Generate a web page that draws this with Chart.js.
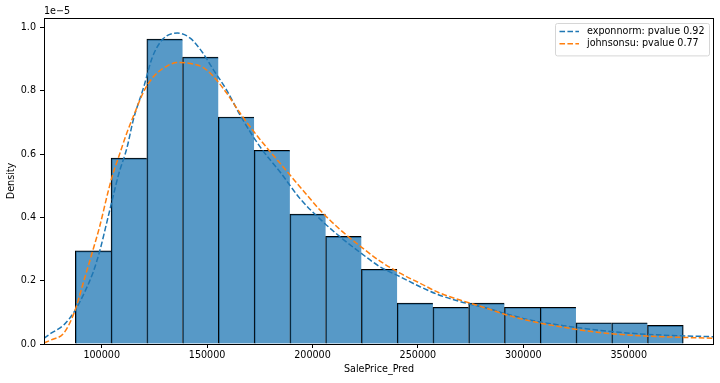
<!DOCTYPE html>
<html><head><meta charset="utf-8">
<script src="https://cdn.jsdelivr.net/npm/chart.js@4/dist/chart.umd.min.js"></script>
<style>html,body{margin:0;padding:0;background:#fff;}#wrap{width:720px;height:383px;}</style>
</head><body><div id="wrap"><canvas id="c" width="720" height="383"></canvas></div>
<script>
// ---- data (density values in units of 1e-5) ----
const binEdges = [87480, 104445, 121410, 138375, 155340, 172305, 189270, 206235, 223200, 240165, 257130, 274095, 291060, 308025, 324990, 341955, 358920, 375885];
const binDensity = [0.294, 0.587, 0.963, 0.906, 0.717, 0.612, 0.410, 0.340, 0.236, 0.129, 0.116, 0.129, 0.116, 0.116, 0.067, 0.067, 0.059];
const curveX = [72600, 76000, 82000, 87000, 92000, 96000, 99000, 103000, 105000, 108000, 112000, 115000, 120000, 124000, 129000, 136000, 142000, 148000, 153000, 159000, 166000, 175000, 185000, 194000, 204000, 213000, 223000, 232000, 242000, 251000, 260000, 270000, 283000, 291000, 303000, 319000, 335000, 351000, 366000, 390500];
const exponnormY = [0.018, 0.034, 0.060, 0.102, 0.165, 0.228, 0.292, 0.400, 0.455, 0.535, 0.620, 0.708, 0.813, 0.905, 0.963, 0.982, 0.966, 0.919, 0.866, 0.805, 0.719, 0.624, 0.540, 0.460, 0.392, 0.339, 0.287, 0.244, 0.211, 0.181, 0.155, 0.134, 0.113, 0.097, 0.076, 0.058, 0.044, 0.034, 0.028, 0.023];
const johnsonsuY = [0.003, 0.013, 0.034, 0.100, 0.210, 0.300, 0.370, 0.480, 0.530, 0.590, 0.668, 0.719, 0.798, 0.840, 0.870, 0.889, 0.886, 0.874, 0.845, 0.795, 0.726, 0.647, 0.568, 0.497, 0.420, 0.362, 0.307, 0.262, 0.222, 0.192, 0.162, 0.139, 0.112, 0.094, 0.073, 0.053, 0.037, 0.028, 0.023, 0.018];
const xTicks = [100000, 150000, 200000, 250000, 300000, 350000];
const yTicks = [0.0, 0.2, 0.4, 0.6, 0.8, 1.0];
const xRange = [72630, 390470];
const yRange = [0, 1.0297];
const seriesNames = ['exponnorm: pvalue 0.92', 'johnsonsu: pvalue 0.77'];
const xLabel = 'SalePrice_Pred';
const yLabel = 'Density';
const offsetText = '1e\u22125';

// ---- chart ----
const FONT = 'DejaVu Sans';
const FS = 9.6;
Chart.defaults.font.family = FONT;
Chart.defaults.font.size = FS;
Chart.defaults.color = '#000';

const colors = ['#1f77b4', '#ff7f0e'];
const dash = [5.55, 2.4];

const barData = binDensity.map((v, i) => ({x: (binEdges[i] + binEdges[i + 1]) / 2, y: v}));
const lastBar = binDensity.length - 1;

const extras = {
  id: 'extras',
  afterDraw(chart) {
    const {ctx, chartArea: a} = chart;
    ctx.save();
    ctx.strokeStyle = '#000';
    ctx.lineWidth = 1;
    ctx.setLineDash([]);
    const L = Math.round(a.left) + 0.5, R = Math.round(a.right) - 0.5, T = Math.round(a.top) + 0.5, B = Math.round(a.bottom) + 0.5;
    ctx.strokeRect(L, T, R - L, B - T);
    ctx.font = FS + 'px "' + FONT + '"';
    ctx.fillStyle = '#000';
    ctx.textAlign = 'left';
    ctx.textBaseline = 'middle';
    ctx.fillText(offsetText, a.left, a.top - 6.5);
    const tw = Math.max(...seriesNames.map(s => ctx.measureText(s).width));
    const pad = 4, handle = 19.5, gap = 8;
    const fr = a.right - 4.5;
    const fl = fr - (pad + handle + gap + tw + 5);
    const ft = a.top + 5, fh = 32.4;
    ctx.beginPath();
    ctx.roundRect(Math.round(fl) + 0.5, Math.round(ft) + 0.5, Math.round(fr - fl), fh, 2);
    ctx.fillStyle = 'rgba(255,255,255,0.8)';
    ctx.fill();
    ctx.strokeStyle = '#d6d6d6';
    ctx.lineWidth = 1;
    ctx.stroke();
    seriesNames.forEach((s, i) => {
      const y = ft + 8.4 + i * 12.3;
      ctx.beginPath();
      ctx.setLineDash(dash);
      ctx.lineWidth = 1.5;
      ctx.strokeStyle = colors[i];
      ctx.moveTo(fl + pad, y);
      ctx.lineTo(fl + pad + handle, y);
      ctx.stroke();
      ctx.setLineDash([]);
      ctx.fillStyle = '#000';
      ctx.fillText(s, fl + pad + handle + gap, y);
    });
    ctx.restore();
  }
};

new Chart(document.getElementById('c'), {
  type: 'bar',
  data: {
    datasets: [
      {
        type: 'line', label: seriesNames[1], order: 1,
        data: curveX.map((x, i) => ({x, y: johnsonsuY[i]})),
        borderColor: colors[1], borderWidth: 1.5, borderDash: dash,
        pointRadius: 0, fill: false, cubicInterpolationMode: 'monotone'
      },
      {
        type: 'line', label: seriesNames[0], order: 2,
        data: curveX.map((x, i) => ({x, y: exponnormY[i]})),
        borderColor: colors[0], borderWidth: 1.5, borderDash: dash,
        pointRadius: 0, fill: false, cubicInterpolationMode: 'monotone'
      },
      {
        type: 'bar', label: 'hist', order: 3,
        data: barData,
        backgroundColor: 'rgba(31,119,180,0.75)',
        borderColor: '#000',
        borderWidth: ctx => ctx.dataIndex === lastBar ? {top: 1, left: 1, right: 1, bottom: 0} : {top: 1, left: 1, right: 0, bottom: 0},
        borderSkipped: false,
        barPercentage: 1, categoryPercentage: 1
      }
    ]
  },
  options: {
    responsive: false,
    animation: false,
    devicePixelRatio: 1,
    layout: {padding: {top: 18, right: 6, left: 0, bottom: 0}},
    plugins: {legend: {display: false}, tooltip: {enabled: false}},
    scales: {
      x: {
        type: 'linear', min: xRange[0], max: xRange[1], offset: false,
        afterBuildTicks: s => { s.ticks = xTicks.map(v => ({value: v})); },
        afterFit: s => { s.height = 39; },
        ticks: {callback: v => String(v), maxRotation: 0, autoSkip: false, padding: 2, font: {size: FS}},
        grid: {offset: false, drawOnChartArea: false, drawTicks: true, tickLength: 4, color: '#000', tickWidth: 1},
        border: {display: false},
        title: {display: true, text: xLabel, padding: {top: 0, bottom: 7.5}, font: {size: FS}}
      },
      y: {
        type: 'linear', min: yRange[0], max: yRange[1],
        afterBuildTicks: s => { s.ticks = yTicks.map(v => ({value: v})); },
        afterFit: s => { s.width = 44; },
        ticks: {callback: v => Number(v).toFixed(1), padding: 4, font: {size: FS}},
        grid: {drawOnChartArea: false, drawTicks: true, tickLength: 4, color: '#000', tickWidth: 1},
        border: {display: false},
        title: {display: true, text: yLabel, padding: {top: 6, bottom: 0}, font: {size: FS}}
      }
    }
  },
  plugins: [extras]
});
</script>
</body></html>
